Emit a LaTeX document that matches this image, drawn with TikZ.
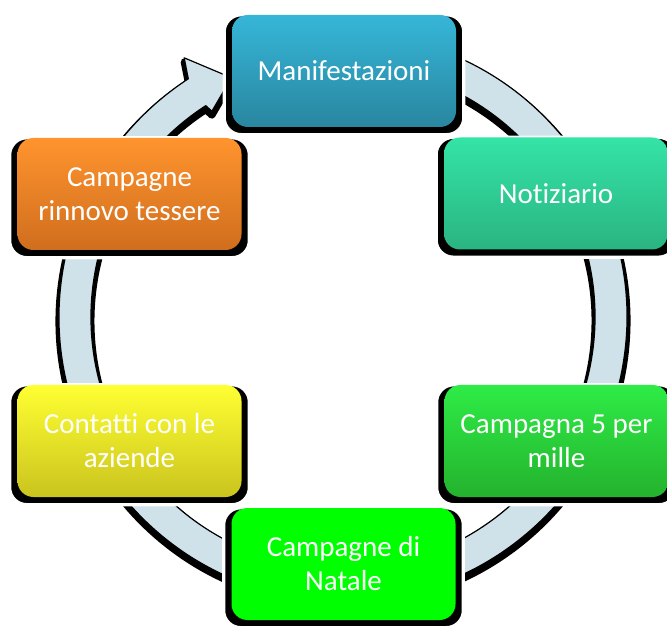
\documentclass[tikz,border=0pt]{standalone}
\usepackage{fontspec}
\setmainfont{Carlito}[Ligatures={NoCommon}]
\usetikzlibrary{shadows}
\definecolor{ringc}{RGB}{207,225,233}
\definecolor{manT}{RGB}{54,182,216}
\definecolor{manB}{RGB}{41,134,160}
\definecolor{notT}{RGB}{52,228,166}
\definecolor{notB}{RGB}{42,180,130}
\definecolor{rinT}{RGB}{255,148,46}
\definecolor{rinB}{RGB}{208,110,30}
\definecolor{conT}{RGB}{255,255,50}
\definecolor{conB}{RGB}{202,196,30}
\definecolor{cinT}{RGB}{46,236,70}
\definecolor{cinB}{RGB}{36,178,46}
\definecolor{natC}{RGB}{0,255,0}
\begin{document}
\begin{tikzpicture}[x=1pt,y=-1pt,
  box/.style={rectangle, rounded corners=16pt, minimum width=224pt, minimum height=112pt,
    text=white, align=center, font=\fontsize{29}{34}\selectfont, inner sep=0pt,
    general shadow={fill=black, draw=white, line width=3pt, shadow yshift=-3.5pt,
      shadow scale=1.07}},
  grad/.style 2 args={shade, top color=#1, bottom color=#2}]
\useasboundingbox (0,0) rectangle (667,628);
\fill[white] (0,0) rectangle (667,628);
\begin{scope}[shift={(343pt,-317pt)}, x=1pt, y=1pt]
  \def\ringpath{(123:252) arc[start angle=123, end angle=440, radius=252]
    -- (440:284) arc[start angle=440, end angle=123, radius=284]
    -- (121.5:304) -- (115:264) -- (122.5:244) -- cycle}
  \fill[black, draw=black, line width=7pt, line join=round, yshift=-4pt] \ringpath;
  \filldraw[fill=ringc, draw=black, line width=1.2pt, line join=round] \ringpath;
\end{scope}
\node[box, grad={manT}{manB}] (man) at (344,71) {Manifestazioni};
\node[box, grad={notT}{notB}] (not) at (556,193.5) {Notiziario};
\node[box, grad={rinT}{rinB}] (rin) at (129.5,194) {Campagne\\rinnovo tessere};
\node[box, grad={conT}{conB}] (con) at (129.5,441) {Contatti con le\\aziende};
\node[box, grad={cinT}{cinB}] (cin) at (556.5,441) {Campagna 5 per\\mille};
\node[box, fill=natC] (nat) at (343.5,564) {Campagne di\\Natale};
\end{tikzpicture}
\end{document}
